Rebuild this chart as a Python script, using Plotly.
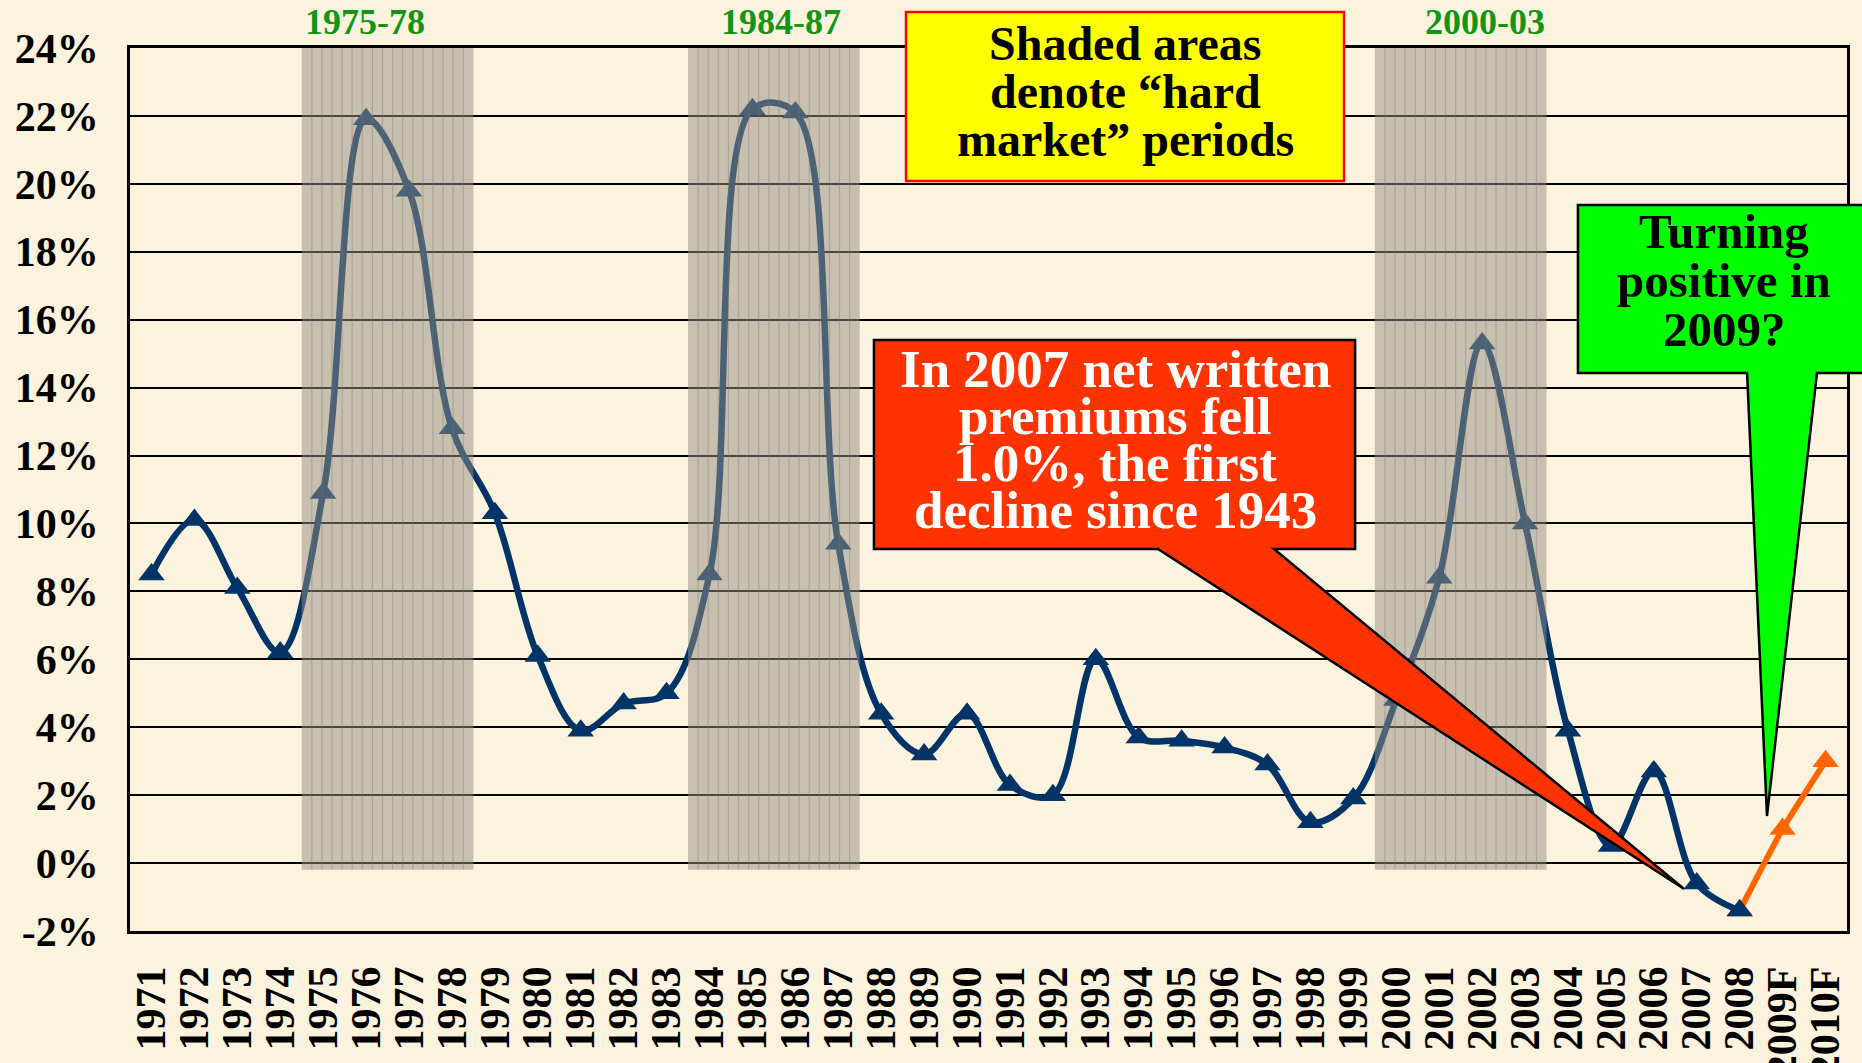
import plotly.graph_objects as go

# category labels
years = ["1971", "1972", "1973", "1974", "1975", "1976", "1977", "1978", "1979", "1980",
         "1981", "1982", "1983", "1984", "1985", "1986", "1987", "1988", "1989", "1990",
         "1991", "1992", "1993", "1994", "1995", "1996", "1997", "1998", "1999", "2000",
         "2001", "2002", "2003", "2004", "2005", "2006", "2007", "2008", "2009F", "2010F"]

# net written premium growth, %
actual_years = years[:38]
actual_growth = [8.5, 10.1, 8.1, 6.2, 10.9, 21.9, 19.8, 12.8, 10.3, 6.1,
                 3.9, 4.7, 5.0, 8.5, 22.2, 22.1, 9.4, 4.4, 3.2, 4.4,
                 2.3, 2.0, 6.0, 3.7, 3.6, 3.4, 2.9, 1.2, 1.9, 4.8,
                 8.4, 15.3, 10.0, 3.9, 0.5, 2.7, -0.6, -1.4]

forecast_years = ["2008", "2009F", "2010F"]
forecast_growth = [-1.4, 1.0, 3.0]

# y axis ticks
y_ticks = [-2, 0, 2, 4, 6, 8, 10, 12, 14, 16, 18, 20, 22, 24]
y_labels = ["-2%", "0%", "2%", "4%", "6%", "8%", "10%", "12%", "14%", "16%",
            "18%", "20%", "22%", "24%"]

# hard market periods
hard_markets = [("1975", "1978"), ("1984", "1987"), ("2000", "2003")]
hard_labels = ["1975-78", "1984-87", "2000-03"]

yellow_lines = ["Shaded areas", "denote \u201chard", "market\u201d periods"]
red_lines = ["In 2007 net written", "premiums fell", "1.0%, the first", "decline since 1943"]
green_lines = ["Turning", "positive in", "2009?"]

SERIF = "Liberation Serif, Times New Roman, serif"
NAVY = "#033467"
ORANGE = "#FF6600"
BG = "#FBF3DD"

W, H = 1862, 1063
ML, MR, MT, MB = 130, 15, 48, 132
PW, PH = W - ML - MR, H - MT - MB


def px(x):
    return (x - ML) / PW


def py(y):
    return (H - MB - y) / PH


def path(points):
    return "M " + " L ".join(f"{px(a):.4f},{py(b):.4f}" for a, b in points) + " Z"


fig = go.Figure()

fig.add_trace(go.Scatter(
    x=forecast_years, y=forecast_growth, mode="lines+markers",
    line=dict(color=ORANGE, width=6, shape="spline", smoothing=0.6),
    marker=dict(symbol="triangle-up", size=23, color=ORANGE),
    showlegend=False, cliponaxis=False))

fig.add_trace(go.Scatter(
    x=actual_years, y=actual_growth, mode="lines+markers",
    line=dict(color=NAVY, width=6.5, shape="spline", smoothing=1.0),
    marker=dict(symbol="triangle-up", size=23, color=NAVY),
    showlegend=False, cliponaxis=False))

shapes = []
annotations = []

for (start, end), label, lx in zip(hard_markets, hard_labels, [4.98, 14.67, 31.06]):
    i0, i1 = years.index(start), years.index(end)
    shapes.append(dict(type="rect", xref="x", yref="y", x0=i0 - 0.5, x1=i1 + 0.5,
                       y0=-0.2, y1=24, fillcolor="#938E84", opacity=0.5,
                       line=dict(width=0), layer="above"))
    # faint vertical hatching inside the shaded band
    n = 17
    for j in range(1, n):
        xs = i0 - 0.5 + j * (i1 - i0 + 1) / n
        shapes.append(dict(type="line", xref="x", yref="y", x0=xs, x1=xs, y0=-0.2, y1=24,
                           line=dict(color="#7D786F", width=1.2), opacity=0.35,
                           layer="above"))
    annotations.append(dict(x=lx, y=py(22), xref="x", yref="paper", text=label,
                            showarrow=False, xanchor="center", yanchor="middle",
                            font=dict(family=SERIF, size=36, color="#129418", weight="bold")))

# yellow note box
shapes.append(dict(type="rect", xref="paper", yref="paper",
                   x0=px(906), x1=px(1344), y0=py(181), y1=py(12),
                   fillcolor="#FFFF00", line=dict(color="#FF0000", width=2.5), layer="above"))
for k, t in enumerate(yellow_lines):
    annotations.append(dict(x=px(1125), y=py(43 + 48.5 * k), xref="paper", yref="paper",
                            text=t, showarrow=False, xanchor="center", yanchor="middle",
                            font=dict(family=SERIF, size=48, color="black", weight="bold")))

# red callout
shapes.append(dict(type="path", xref="paper", yref="paper", layer="above",
                   path=path([(874, 340), (1355, 340), (1355, 549), (1274, 549),
                              (1684, 889), (1158, 549), (874, 549)]),
                   fillcolor="#FF3300", line=dict(color="black", width=2.5)))
for k, t in enumerate(red_lines):
    annotations.append(dict(x=px(1115), y=py(369 + 47 * k), xref="paper", yref="paper",
                            text=t, showarrow=False, xanchor="center", yanchor="middle",
                            font=dict(family=SERIF, size=53, color="white", weight="bold")))

# green callout
shapes.append(dict(type="path", xref="paper", yref="paper", layer="above",
                   path=path([(1578, 205), (1880, 205), (1880, 373), (1817, 373),
                              (1767, 816), (1747, 373), (1578, 373)]),
                   fillcolor="#00FF00", line=dict(color="black", width=2.5)))
for k, t in enumerate(green_lines):
    annotations.append(dict(x=px(1724), y=py(232 + 48.5 * k), xref="paper", yref="paper",
                            text=t, showarrow=False, xanchor="center", yanchor="middle",
                            font=dict(family=SERIF, size=49, color="black", weight="bold")))

fig.update_layout(
    width=W, height=H,
    margin=dict(l=ML, r=MR, t=MT, b=MB, pad=0, autoexpand=False),
    paper_bgcolor=BG, plot_bgcolor=BG,
    shapes=shapes, annotations=annotations,
    xaxis=dict(type="category", categoryorder="array", categoryarray=years,
               range=[-0.5, len(years) - 0.5], tickmode="array", tickvals=years,
               ticktext=years, tickangle=-90, ticks="", automargin=False,
               tickfont=dict(family=SERIF, size=42, color="black", weight="bold"),
               ticklabelstandoff=16, showgrid=False, showline=True,
               linecolor="black", linewidth=2.5, mirror=True),
    xaxis2=dict(overlaying="x", anchor="free", position=2 / 26, side="bottom",
                range=[-0.5, len(years) - 0.5], automargin=False,
                tickvals=[i + 0.5 for i in range(len(years) - 1)],
                ticks="inside", ticklen=11, tickwidth=2, tickcolor="black",
                showticklabels=False, showgrid=False, showline=False, zeroline=False),
    yaxis=dict(range=[-2, 24], tickmode="array", tickvals=y_ticks, ticktext=y_labels,
               ticks="", automargin=False,
               tickfont=dict(family=SERIF, size=42, color="black", weight="bold"),
               ticklabelstandoff=20, showgrid=True, gridcolor="black", gridwidth=2,
               zeroline=False, showline=True, linecolor="black", linewidth=2.5,
               mirror=True),
)

fig.write_html("out.html", config={"displayModeBar": False},
               post_script="document.body.style.margin='0px';")
